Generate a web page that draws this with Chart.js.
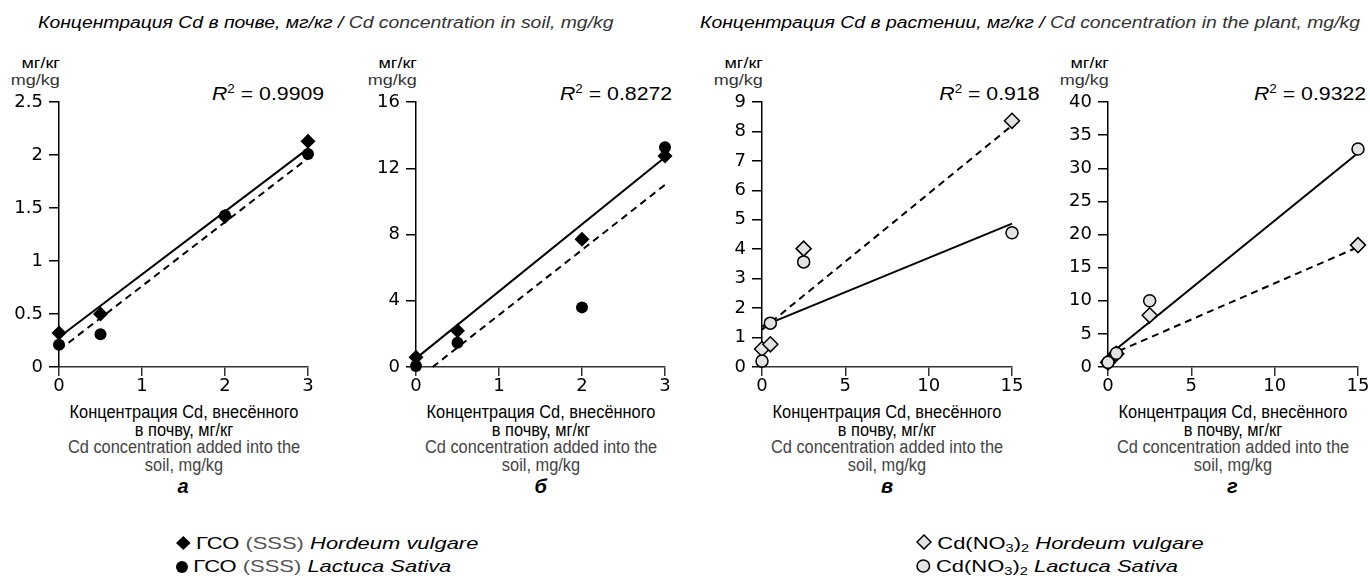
<!DOCTYPE html>
<html>
<head>
<meta charset="utf-8">
<script src="https://cdn.jsdelivr.net/npm/chart.js@4.4.1/dist/chart.umd.min.js"></script>
<style>
  body { margin: 0; background: #fff; width: 1370px; height: 579px; position: relative; overflow: hidden;
         font-family: "Liberation Sans", Arial, sans-serif; color: #000; }
  .abs { position: absolute; white-space: nowrap; }
  canvas { position: absolute; }
  .title { font-style: italic; font-size: 16px; top: 14px; transform: scaleX(1.21); transform-origin: left top; }
  .title .en { color: #333; }
  .unit { font-size: 15px; line-height: 17px; text-align: right; top: 54px; transform: scaleX(1.2); transform-origin: right top; }
  .unit .en { color: #333; }
  .r2 { font-size: 19px; top: 83px; transform: scaleX(1.12); transform-origin: right top; }
  .r2 sup { font-size: 12px; vertical-align: 7px; line-height: 0; }
  .xt { font-size: 18px; line-height: 17.5px; text-align: center; top: 404px; width: 300px;
        transform: scaleX(0.91); transform-origin: center top; }
  .xt .en { color: #444; }
  .letter { font-weight: bold; font-style: italic; font-size: 20px; top: 475px; }
  .leg { font-size: 16.5px; line-height: 23px; transform: scaleX(1.33); transform-origin: left top; }
  .leg .gr { color: #555; }
  .leg svg { vertical-align: -1px; margin-right: 4px; }
  sub { font-size: 11px; line-height: 0; vertical-align: -3px; }
</style>
</head>
<body>

<div class="abs title" style="left:38px">Концентрация Cd в почве, мг/кг / <span class="en">Cd concentration in soil, mg/kg</span></div>
<div class="abs title" style="left:700px">Концентрация Cd в растении, мг/кг / <span class="en">Cd concentration in the plant, mg/kg</span></div>

<div id="overlay"></div>

<div class="abs leg" style="left:176px;top:532px">
  <svg width="11" height="14" viewBox="0 0 14 14" preserveAspectRatio="none"><polygon points="7,0 14,7 7,14 0,7" fill="#000"/></svg>ГСО <span class="gr">(SSS)</span> <i>Hordeum vulgare</i><br>
  <svg width="9" height="12" viewBox="0 0 12 12" preserveAspectRatio="none"><circle cx="6" cy="6" r="6" fill="#000"/></svg>ГСО <span class="gr">(SSS)</span> <i>Lactuca Sativa</i>
</div>
<div class="abs leg" style="left:916px;top:532px">
  <svg width="12" height="16" viewBox="0 0 16 16" preserveAspectRatio="none"><polygon points="8,1 15,8 8,15 1,8" fill="#e3e3e3" stroke="#000" stroke-width="1.5"/></svg>Cd(NO<sub>3</sub>)<sub>2</sub> <i>Hordeum vulgare</i><br>
  <svg width="11" height="14" viewBox="0 0 14 14" preserveAspectRatio="none"><circle cx="7" cy="7" r="6" fill="#e3e3e3" stroke="#000" stroke-width="1.5"/></svg>Cd(NO<sub>3</sub>)<sub>2</sub> <i>Lactuca Sativa</i>
</div>

<script>
// doses of Cd added into the soil
const soilDoses = [0, 0.5, 2, 3];
const plantDoses = [0, 0.5, 2.5, 15];

// а – soil, SSS
const hordeumA = [0.32, 0.50, 1.42, 2.13];
const lactucaA = [0.21, 0.31, 1.43, 2.01];
const fitSolidXA = [0, 3], fitSolidA = [0.28, 2.06];
const fitDashXA = [0, 3], fitDashA = [0.16, 1.97];

// б – soil, SSS
const hordeumB = [0.59, 2.19, 7.71, 12.74];
const lactucaB = [0.06, 1.47, 3.6, 13.27];
const fitSolidXB = [0, 3], fitSolidB = [0.52, 12.66];
const fitDashXB = [0.2, 3], fitDashB = [0, 11.0];

// в – plant, Cd(NO3)2
const hordeumV = [0.61, 0.77, 4.02, 8.36];
const lactucaV = [0.2, 1.49, 3.57, 4.56];
const fitSolidXV = [0, 15], fitSolidV = [1.38, 4.87];
const fitDashXV = [0, 15], fitDashV = [1.27, 8.2];

// г – plant, Cd(NO3)2
const hordeumG = [0.7, 2.0, 7.8, 18.4];
const lactucaG = [0.7, 2.07, 10.0, 32.9];
const fitSolidXG = [0, 15], fitSolidG = [1.7, 32.3];
const fitDashXG = [0, 15], fitDashG = [1.7, 18.1];

const r2Labels = ['0.9909', '0.8272', '0.918', '0.9322'];
const panelLetters = ['а', 'б', 'в', 'г'];

const pts = (xs, ys) => xs.map((x, i) => ({ x: x, y: ys[i] }));

const panels = [
  { left: 59, width: 249, xMax: 3, xStep: 1, yMax: 2.5, yStep: 0.5, x: soilDoses, h: hordeumA, l: lactucaA,
    solid: pts(fitSolidXA, fitSolidA), dash: pts(fitDashXA, fitDashA), open: false, r2Right: 324 },
  { left: 416, width: 249, xMax: 3, xStep: 1, yMax: 16, yStep: 4, x: soilDoses, h: hordeumB, l: lactucaB,
    solid: pts(fitSolidXB, fitSolidB), dash: pts(fitDashXB, fitDashB), open: false, r2Right: 672 },
  { left: 762, width: 250, xMax: 15, xStep: 5, yMax: 9, yStep: 1, x: plantDoses, h: hordeumV, l: lactucaV,
    solid: pts(fitSolidXV, fitSolidV), dash: pts(fitDashXV, fitDashV), open: true, r2Right: 1040 },
  { left: 1108, width: 250, xMax: 15, xStep: 5, yMax: 40, yStep: 5, x: plantDoses, h: hordeumG, l: lactucaG,
    solid: pts(fitSolidXG, fitSolidG), dash: pts(fitDashXG, fitDashG), open: true, r2Right: 1366 }
];

const TOP = 102, PAD_L = 60, PAD_T = 22, PAD_R = 22, X_H = 40, AREA_H = 265;
const tickFont = { family: 'DejaVu Sans', size: 18 };
const overlay = document.getElementById('overlay');

panels.forEach((p, k) => {
  const cv = document.createElement('canvas');
  cv.width = PAD_L + p.width + PAD_R;
  cv.height = PAD_T + AREA_H + X_H;
  cv.style.left = (p.left - PAD_L) + 'px';
  cv.style.top = (TOP - PAD_T) + 'px';
  document.body.appendChild(cv);

  const fill = p.open ? '#e3e3e3' : '#000';

  new Chart(cv, {
    type: 'scatter',
    data: {
      datasets: [
        { data: pts(p.x, p.l), pointStyle: 'circle', pointRadius: 6, clip: false,
          backgroundColor: fill, borderColor: '#000', borderWidth: p.open ? 1.5 : 0, order: 0 },
        { data: pts(p.x, p.h), pointStyle: 'rectRot', pointRadius: 7.5, clip: false,
          backgroundColor: fill, borderColor: '#000', borderWidth: p.open ? 1.5 : 0, order: 1 },
        { data: p.solid, showLine: true, pointRadius: 0, clip: false, borderColor: '#000', borderWidth: 2, order: 2 },
        { data: p.dash, showLine: true, pointRadius: 0, clip: false, borderColor: '#000', borderWidth: 2,
          borderDash: [7, 5], order: 3 }
      ]
    },
    options: {
      responsive: false,
      animation: false,
      layout: { padding: { left: 0, top: PAD_T, right: PAD_R, bottom: 0 } },
      plugins: { legend: { display: false }, tooltip: { enabled: false } },
      scales: {
        x: {
          type: 'linear', min: 0, max: p.xMax,
          afterFit: s => { s.height = X_H; },
          ticks: { stepSize: p.xStep, color: '#000', font: tickFont, padding: 0, callback: v => String(v) },
          grid: { drawOnChartArea: false, drawTicks: true, tickLength: 9, color: '#333', lineWidth: 1.5 },
          border: { display: true, color: '#333', width: 1.5 }
        },
        y: {
          type: 'linear', min: 0, max: p.yMax,
          afterFit: s => { s.width = PAD_L; },
          ticks: { stepSize: p.yStep, color: '#000', font: tickFont, padding: 6, callback: v => String(v) },
          grid: { drawOnChartArea: false, drawTicks: true, tickLength: 10, color: '#000', lineWidth: 1.5 },
          border: { display: true, color: '#000', width: 1.5 }
        }
      }
    }
  });

  const cx = p.left + p.width / 2;
  overlay.insertAdjacentHTML('beforeend',
    '<div class="abs unit" style="right:' + (1370 - p.left - 1) + 'px">мг/кг<br><span class="en">mg/kg</span></div>' +
    '<div class="abs r2" style="right:' + (1370 - p.r2Right) + 'px"><i>R</i><sup>2</sup> = ' + r2Labels[k] + '</div>' +
    '<div class="abs xt" style="left:' + (cx - 150) + 'px">Концентрация Cd, внесённого<br>в почву, мг/кг<br>' +
    '<span class="en">Cd concentration added into the<br>soil, mg/kg</span></div>' +
    '<div class="abs letter" style="left:' + (cx - 6) + 'px">' + panelLetters[k] + '</div>');
});
</script>
</body>
</html>
